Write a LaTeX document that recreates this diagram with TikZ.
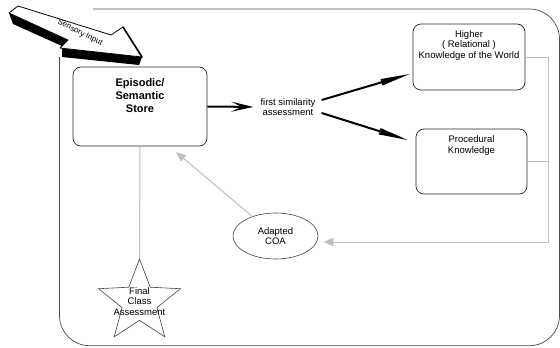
\documentclass[tikz,border=0pt]{standalone}
\usepackage{fontspec}
\setmainfont{Liberation Sans}
\usetikzlibrary{shapes.geometric,arrows.meta,calc}
\begin{document}
\begin{tikzpicture}[x=1pt,y=-1pt,
  box/.style={draw=black!85, line width=0.7pt, rounded corners=8pt, inner sep=0pt},
  txt/.style={font=\fontsize{9.5}{10.5}\selectfont, align=center, inner sep=0pt},
  blackarr/.style={line width=2pt, -{Stealth[length=#1,width=10pt,inset=0.45*#1]}},
  blackarr/.default=22pt,
  grayline/.style={draw=black!25, line width=1pt},
  grayarr/.style={grayline, -{Triangle[length=10pt,width=8pt,fill=black!25]}},
  ]
\useasboundingbox (0,0) rectangle (560,348);
% outer frame
\draw[black!70, line width=0.7pt, rounded corners=30pt]
  (93,9) -- (559.5,9) -- (559.5,345.7) -- (59.5,345.7) -- (59.5,57);
% boxes
\node[box, minimum width=134pt, minimum height=79pt] (store) at (140,106.5) {};
\node[font=\fontsize{11}{13}\selectfont\bfseries, align=center, inner sep=0pt] (storetxt) at (140,96) {Episodic/\\Semantic\\Store};
\node[box, minimum width=112pt, minimum height=66pt] (higher) at (469,57) {};
\node[txt] (highertxt) at (469,45.5) {Higher\\( Relational )\\Knowledge of the World};
\node[box, minimum width=111pt, minimum height=65pt] (proc) at (471.5,161.5) {};
\node[txt] (proctxt) at (471.5,145.5) {Procedural\\Knowledge};
\node[txt] (fsa) at (288,107) {first similarity\\assessment};
\node[draw=black!75, line width=0.6pt, ellipse, minimum width=85pt, minimum height=46pt, inner sep=0pt, font=\fontsize{9.5}{10.5}\selectfont, align=center] (coa) at (275.5,236) {Adapted\\COA};
\node[draw=black!75, line width=0.6pt, star, star points=5, star point ratio=2.35, minimum size=86pt, inner sep=0pt] (fca) at (139.5,302) {};
\node[txt] (fcatxt) at (139.5,301.5) {Final\\Class\\Assessment};
% black arrows
\draw[blackarr, shorten >=7pt] (store.east) -- (fsa.west);
\draw[blackarr=44pt] ($(fsa.east)+(6,-7)$) -- ($(higher.west)+(-3,17)$);
\draw[blackarr=44pt] ($(fsa.east)+(6,6)$) -- ($(proc.west)+(-8,-21.5)$);
% gray connectors
\coordinate (rc) at (548,242);
\coordinate (tgt) at (176,152);
\draw[grayline] (store.south) -- (fca.outer point 1);
\draw[grayarr] (coa) -- (tgt);
\draw[grayarr] (higher.east) -| (rc) -- ($(coa.east)+(5,6)$);
\draw[grayline] (proc.east) -- (proc.east -| rc);
% sensory input arrow
\fill[black] (9,13) -- (13,24) -- (62,46) -- (62,57) -- (139,65) -- (142,57) -- (60,48) -- (68,40) -- cycle;
\draw[fill=white, line width=0.8pt, line join=round] (9,13) -- (18,6) -- (111,35) -- (123,27) -- (142,57) -- (60,48) -- (68,40) -- cycle;
\draw[line width=1.6pt, line cap=round] (123,27) -- (142,57);
\node[font=\fontsize{8}{9}\selectfont, rotate=-27, inner sep=0pt] (sensory) at (80,33) {Sensory Input};
\end{tikzpicture}
\end{document}
